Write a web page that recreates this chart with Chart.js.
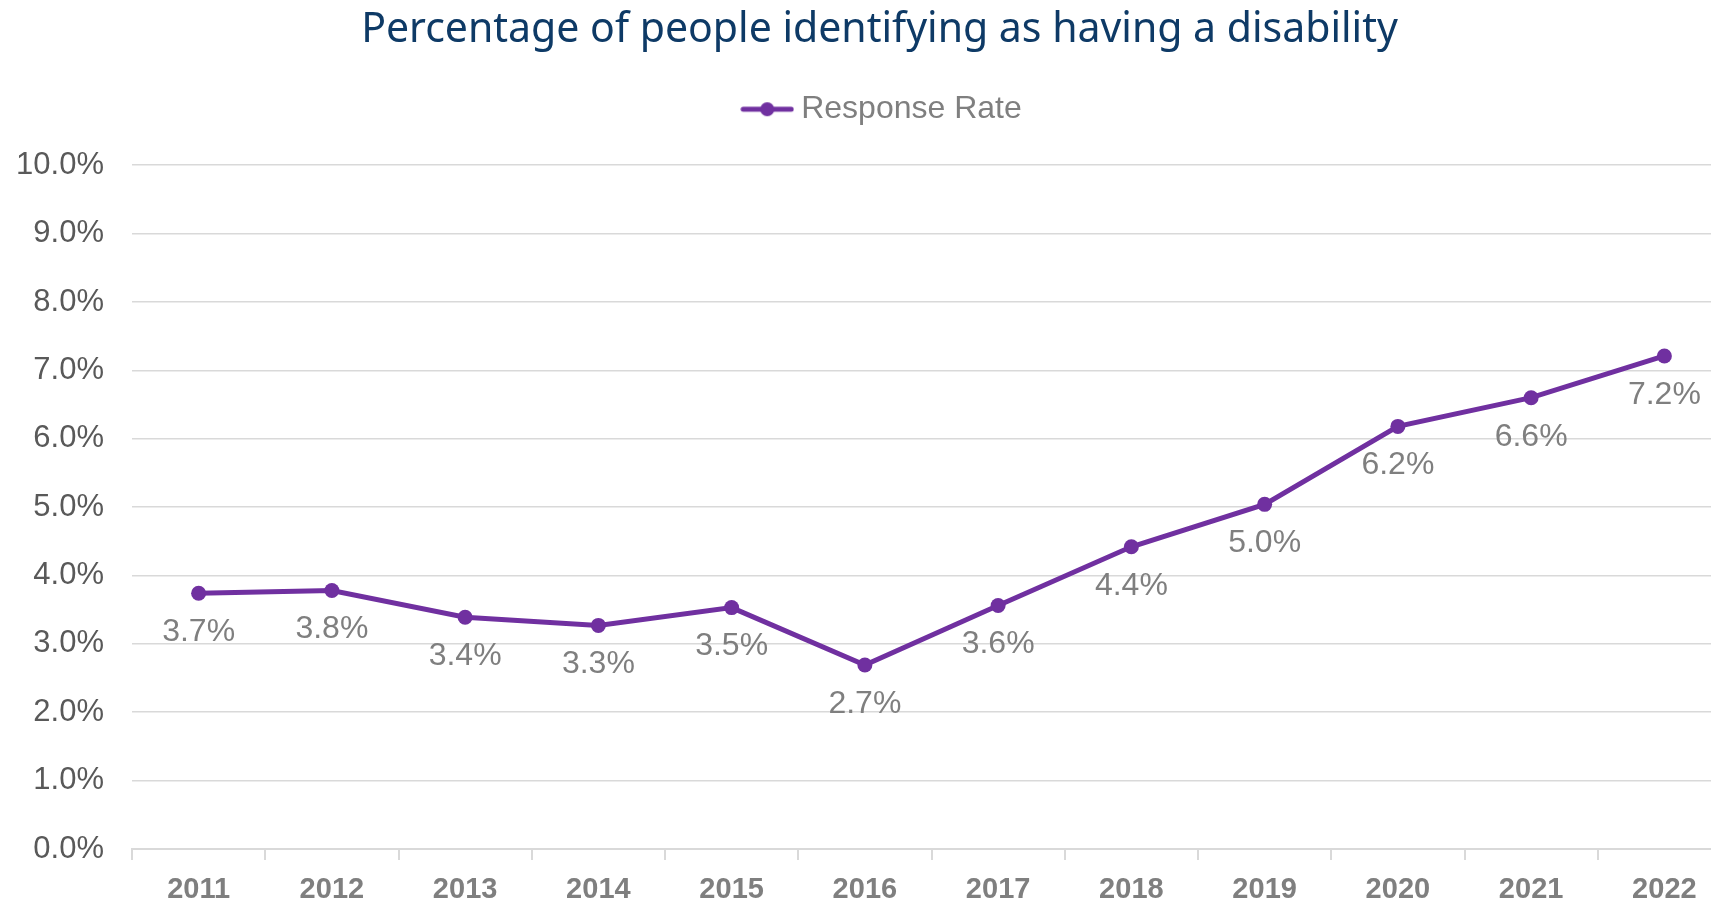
<!DOCTYPE html>
<html>
<head>
<meta charset="utf-8">
<script src="https://cdn.jsdelivr.net/npm/chart.js@4.4.1/dist/chart.umd.min.js"></script>
<style>
    html, body { margin: 0; padding: 0; background: #ffffff; overflow: hidden; }
    #wrap { position: absolute; left: 0; top: 0; width: 1760px; height: 902px; }
</style>
</head>
<body>
<div id="wrap"><canvas id="disabilityChart" width="1760" height="902"></canvas></div>
<script>
// Chart data
const years = ['2011', '2012', '2013', '2014', '2015', '2016', '2017', '2018', '2019', '2020', '2021', '2022'];
const responseRate = [3.74, 3.78, 3.39, 3.27, 3.53, 2.69, 3.56, 4.42, 5.04, 6.18, 6.60, 7.21];
const yTicks = [0, 1, 2, 3, 4, 5, 6, 7, 8, 9, 10];

const purple = '#7030a0';
const greyText = '#7f7f7f';
const gridGrey = '#d9d9d9';

// Legend symbol: short line with a dot in the middle
function makeLegendSymbol() {
    const c = document.createElement('canvas');
    c.width = 54;
    c.height = 18;
    const g = c.getContext('2d');
    g.strokeStyle = purple;
    g.lineWidth = 5;
    g.lineCap = 'round';
    g.beginPath();
    g.moveTo(3, 9);
    g.lineTo(51, 9);
    g.stroke();
    g.fillStyle = purple;
    g.beginPath();
    g.arc(27, 9, 7, 0, Math.PI * 2);
    g.fill();
    return c;
}

// Extra room between the legend and the plot
const legendGap = {
    id: 'legendGap',
    beforeInit(chart) {
        const origFit = chart.legend.fit;
        chart.legend.fit = function () {
            origFit.bind(chart.legend)();
            this.height += 30;
        };
    },
    // title and legend are centred on the whole (wider) original chart
    afterLayout(chart) {
        chart.titleBlock.left += 28;
        chart.legend.left += 40;
    }
};

// Value labels drawn below each point
const pointLabels = {
    id: 'pointLabels',
    afterDatasetsDraw(chart) {
        const ctx = chart.ctx;
        const meta = chart.getDatasetMeta(0);
        ctx.save();
        ctx.font = '32px "Liberation Sans", Arial, sans-serif';
        ctx.fillStyle = greyText;
        ctx.textAlign = 'center';
        ctx.textBaseline = 'middle';
        meta.data.forEach((pt, i) => {
            ctx.fillText(responseRate[i].toFixed(1) + '%', pt.x, pt.y + 39);
        });
        ctx.restore();
    }
};

const ctx = document.getElementById('disabilityChart').getContext('2d');
new Chart(ctx, {
    type: 'line',
    data: {
        labels: years,
        datasets: [{
            label: 'Response Rate',
            data: responseRate,
            borderColor: purple,
            backgroundColor: purple,
            borderWidth: 5,
            pointRadius: 7.5,
            pointHoverRadius: 7.5,
            pointBackgroundColor: purple,
            pointBorderWidth: 0,
            tension: 0,
            pointStyle: 'circle'
        }]
    },
    options: {
        responsive: false,
        animation: false,
        layout: {
            padding: { left: 0, right: 29, top: 0, bottom: 0 }
        },
        plugins: {
            title: {
                display: true,
                text: 'Percentage of people identifying as having a disability',
                color: '#0e3a66',
                font: { family: '"Noto Sans", sans-serif', size: 41, weight: 'normal' },
                padding: { top: 6, bottom: 24 }
            },
            legend: {
                display: true,
                position: 'top',
                labels: {
                    usePointStyle: true,
                    pointStyle: makeLegendSymbol(),
                    pointStyleWidth: 36,
                    color: greyText,
                    font: { family: '"Liberation Sans", Arial, sans-serif', size: 32 },
                    padding: 14
                }
            },
            tooltip: { enabled: false }
        },
        scales: {
            x: {
                offset: true,
                grid: {
                    offset: true,
                    drawOnChartArea: false,
                    drawTicks: true,
                    tickLength: 11,
                    color: gridGrey,
                    lineWidth: 2
                },
                border: { display: true, color: gridGrey, width: 2 },
                ticks: {
                    color: greyText,
                    padding: 13,
                    font: { family: '"Liberation Sans", Arial, sans-serif', size: 29, weight: 'bold' }
                },
                afterFit(scale) { scale.height = 53; }
            },
            y: {
                min: 0,
                max: 10,
                afterBuildTicks(scale) {
                    scale.ticks = yTicks.map(v => ({ value: v }));
                },
                grid: {
                    color: gridGrey,
                    lineWidth: 1.5,
                    drawTicks: false
                },
                border: { display: false },
                ticks: {
                    color: '#595959',
                    padding: 28,
                    font: { family: '"Liberation Sans", Arial, sans-serif', size: 31 },
                    callback: v => v.toFixed(1) + '%'
                },
                afterFit(scale) { scale.width = 132; }
            }
        }
    },
    plugins: [legendGap, pointLabels]
});
</script>
</body>
</html>
